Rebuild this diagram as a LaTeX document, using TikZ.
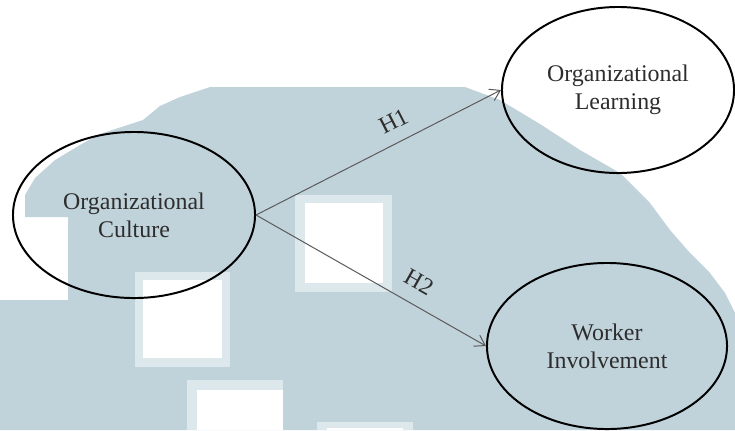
\documentclass[tikz,border=0pt]{standalone}
\usepackage{fontspec}
\setmainfont{Liberation Serif}
\usetikzlibrary{shapes.geometric, arrows.meta}
\definecolor{wmblue}{RGB}{193,211,218}
\definecolor{wmedge}{RGB}{221,232,236}
\definecolor{inktext}{RGB}{45,45,45}
\tikzstyle{construct} = [ellipse, draw=black, line width=1.4pt, inner sep=0pt, minimum width=6cm, minimum height=4.15cm, text=inktext, align=center, font=\fontsize{17}{20}\selectfont]
\tikzstyle{arrow} = [draw=black!65, line width=0.7pt, -{Straight Barb[length=7pt,width=9pt]}]
\tikzstyle{hyp} = [sloped, inner sep=1pt, text=inktext, font=\fontsize{17}{20}\selectfont]
\tikzstyle{gap} = [fill=wmedge]

\begin{document}
\begin{tikzpicture}[x=0.025cm,y=-0.025cm]
    \useasboundingbox (0,0) rectangle (735,430);
    \fill[white] (0,0) rectangle (735,430);

    % watermark behind the model
    \fill[wmblue] (0,430) -- (0,300) -- (68,300) -- (68,217) -- (25,217) -- (25,195)
        -- (35,178) -- (55,160) -- (80,145) -- (100,134) -- (143,120) -- (160,106)
        -- (180,97) -- (210,87) -- (465,87) -- (500,100) -- (540,124) -- (580,150)
        -- (620,173) -- (650,203) -- (670,230) -- (690,253) -- (710,273) -- (725,293)
        -- (735,313) -- (735,430) -- cycle;
    \fill[gap] (135,272) rectangle (230,367);
    \fill[white] (143,280) rectangle (222,358);
    \fill[gap] (295,195) rectangle (392,292);
    \fill[white] (305,203) rectangle (383,283);
    \fill[gap] (187,380) rectangle (283,430);
    \fill[white] (197,390) rectangle (283,430);
    \fill[gap] (317,422) rectangle (413,430);
    \fill[white] (327,428) rectangle (403,430);

    \node (culture) [construct, minimum width=6.05cm] at (134,215) {Organizational\\Culture};
    \node (learning) [construct, minimum width=5.8cm] at (618,90) {Organizational\\Learning};
    \node (worker) [construct] at (607,346) {Worker\\Involvement};

    \draw [arrow] (culture.east) -- node[hyp, above=8pt, pos=0.60] {H1} (learning.west);
    \draw [arrow] (culture.east) -- node[hyp, above=9pt, pos=0.66] {H2} (worker.west);
\end{tikzpicture}
\end{document}
